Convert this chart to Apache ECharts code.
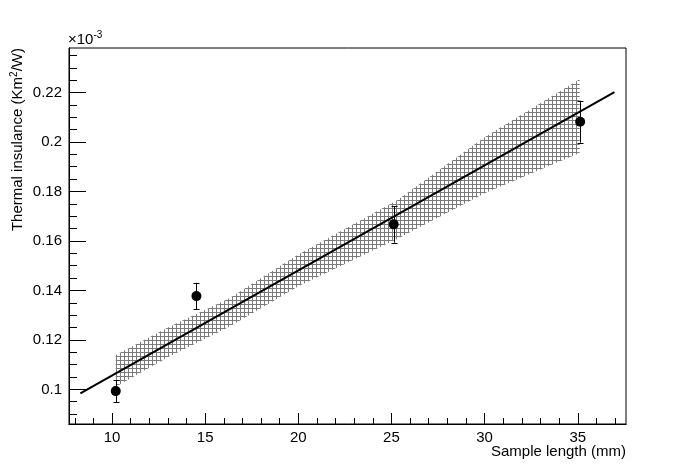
<!DOCTYPE html>
<html>
<head>
<meta charset="utf-8">
<script src="https://cdn.jsdelivr.net/npm/echarts@6/dist/echarts.min.js"></script>
<style>
  html, body { margin: 0; padding: 0; background: #fff; }
  #chart { width: 696px; height: 472px; }
</style>
</head>
<body>
<div id="chart"></div>
<script>
// values on the y axis are in units of 1e-3 (Km^2/W)
const sampleLength = [10.2, 14.53, 25.12, 35.13]
const insulance = [0.0993, 0.1377, 0.1667, 0.2082]
const insulanceErr = [0.0044, 0.0054, 0.0074, 0.0085]

// fitted straight line, read at its two ends
const fitX = [8.3, 36.97]
const fitY = [0.0984, 0.2202]

// confidence band (hatched), lower / upper edge
const bandX = [10.2, 13, 16.3, 20, 25.3, 30, 35.1]
const bandLow = [0.1011, 0.1130, 0.1253, 0.1417, 0.1608, 0.1793, 0.1956]
const bandHigh = [0.1139, 0.1250, 0.1368, 0.1545, 0.1765, 0.2019, 0.2254]

const xMajor = [10, 15, 20, 25, 30, 35]
const xMinor = [8, 9, 11, 12, 13, 14, 16, 17, 18, 19, 21, 22, 23, 24, 26, 27, 28, 29, 31, 32, 33, 34, 36, 37]
const yMajor = [0.1, 0.12, 0.14, 0.16, 0.18, 0.2, 0.22]
const yMinor = [0.09, 0.095, 0.105, 0.11, 0.115, 0.125, 0.13, 0.135, 0.145, 0.15, 0.155, 0.165, 0.17, 0.175,
  0.185, 0.19, 0.195, 0.205, 0.21, 0.215, 0.225, 0.23, 0.235]

const xRange = [7.69, 37.59]
const yRange = [0.086, 0.238]

const font = 'Liberation Sans, Arial, Helvetica, sans-serif'

// little grid pattern for the hatched band
function hatchPattern() {
  const c = document.createElement('canvas')
  c.width = 4
  c.height = 4
  const ctx = c.getContext('2d')
  ctx.fillStyle = '#7a7a7a'
  ctx.fillRect(0, 0, 4, 1)
  ctx.fillRect(0, 0, 1, 4)
  return c
}
const hatch = hatchPattern()

const chart = echarts.init(document.getElementById('chart'), null, { renderer: 'canvas' })

function xAxisBase(extra) {
  return Object.assign({
    type: 'value',
    position: 'bottom',
    min: xRange[0],
    max: xRange[1],
    axisLine: { show: true, onZero: false, lineStyle: { color: '#000', width: 1 } },
    splitLine: { show: false }
  }, extra)
}
function yAxisBase(extra) {
  return Object.assign({
    type: 'value',
    position: 'left',
    min: yRange[0],
    max: yRange[1],
    axisLine: { show: true, onZero: false, lineStyle: { color: '#000', width: 1 } },
    splitLine: { show: false }
  }, extra)
}

chart.setOption({
  animation: false,
  backgroundColor: '#fff',
  grid: {
    left: 69, right: 70, top: 48, bottom: 48,
    show: true, borderColor: '#000', borderWidth: 1, backgroundColor: 'transparent'
  },
  xAxis: [
    xAxisBase({
      axisTick: { show: true, inside: true, length: 11, customValues: xMajor, lineStyle: { color: '#000' } },
      axisLabel: {
        customValues: xMajor, margin: 6, color: '#000', fontSize: 15, fontFamily: font
      }
    }),
    xAxisBase({
      axisTick: { show: true, inside: true, length: 6, customValues: xMinor, lineStyle: { color: '#000' } },
      axisLabel: { show: false }
    })
  ],
  yAxis: [
    yAxisBase({
      axisTick: { show: true, inside: true, length: 17, customValues: yMajor, lineStyle: { color: '#000' } },
      axisLabel: {
        customValues: yMajor, margin: 7, color: '#000', fontSize: 15, fontFamily: font,
        formatter: v => String(+v.toFixed(3))
      }
    }),
    yAxisBase({
      axisTick: { show: true, inside: true, length: 8, customValues: yMinor, lineStyle: { color: '#000' } },
      axisLabel: { show: false }
    })
  ],
  graphic: [
    {
      type: 'text',
      x: 626,
      y: 452,
      style: {
        text: 'Sample length (mm)', fill: '#000', fontSize: 15, fontFamily: font,
        align: 'right', verticalAlign: 'middle'
      }
    },
    {
      type: 'text',
      x: 18,
      y: 48,
      rotation: Math.PI / 2,
      style: {
        text: 'Thermal insulance (Km{sup|2}/W)',
        fill: '#000',
        fontSize: 15,
        fontFamily: font,
        align: 'right',
        verticalAlign: 'middle',
        rich: { sup: { fontSize: 10, fontFamily: font, padding: [0, 0, 7, 0] } }
      }
    },
    {
      type: 'text',
      x: 68,
      y: 40,
      style: {
        text: '×10{sup|-3}',
        fill: '#000',
        fontSize: 15,
        fontFamily: font,
        verticalAlign: 'middle',
        rich: { sup: { fontSize: 10, fontFamily: font, padding: [0, 0, 9, 0] } }
      }
    }
  ],
  series: [
    {
      type: 'custom',
      name: 'band',
      z: 1,
      data: bandX.map((x, i) => [x, bandLow[i], bandHigh[i]]),
      renderItem(params, api) {
        if (params.dataIndex !== 0) return
        const pts = []
        for (let i = 0; i < bandX.length; i++) pts.push(api.coord([bandX[i], bandHigh[i]]))
        for (let i = bandX.length - 1; i >= 0; i--) pts.push(api.coord([bandX[i], bandLow[i]]))
        return {
          type: 'polygon',
          shape: { points: pts },
          style: { fill: { image: hatch, repeat: 'repeat' }, stroke: null }
        }
      }
    },
    {
      type: 'line',
      name: 'fit',
      z: 3,
      symbol: 'none',
      data: fitX.map((x, i) => [x, fitY[i]]),
      lineStyle: { color: '#000', width: 2 }
    },
    {
      type: 'custom',
      name: 'errors',
      z: 4,
      data: sampleLength.map((x, i) => [x, insulance[i], insulanceErr[i]]),
      renderItem(params, api) {
        const x = api.value(0)
        const y = api.value(1)
        const e = api.value(2)
        const top = api.coord([x, y + e])
        const bot = api.coord([x, y - e])
        const cx = Math.round(top[0]) + 0.5
        const st = { stroke: '#000', lineWidth: 1 }
        return {
          type: 'group',
          children: [
            { type: 'line', shape: { x1: cx, y1: top[1], x2: cx, y2: bot[1] }, style: st },
            { type: 'line', shape: { x1: cx - 3, y1: Math.round(top[1]) + 0.5, x2: cx + 3, y2: Math.round(top[1]) + 0.5 }, style: st },
            { type: 'line', shape: { x1: cx - 3, y1: Math.round(bot[1]) + 0.5, x2: cx + 3, y2: Math.round(bot[1]) + 0.5 }, style: st }
          ]
        }
      }
    },
    {
      type: 'scatter',
      name: 'data',
      z: 5,
      symbol: 'circle',
      symbolSize: 10,
      itemStyle: { color: '#000', opacity: 1 },
      data: sampleLength.map((x, i) => [x, insulance[i]])
    }
  ]
})
</script>
</body>
</html>
